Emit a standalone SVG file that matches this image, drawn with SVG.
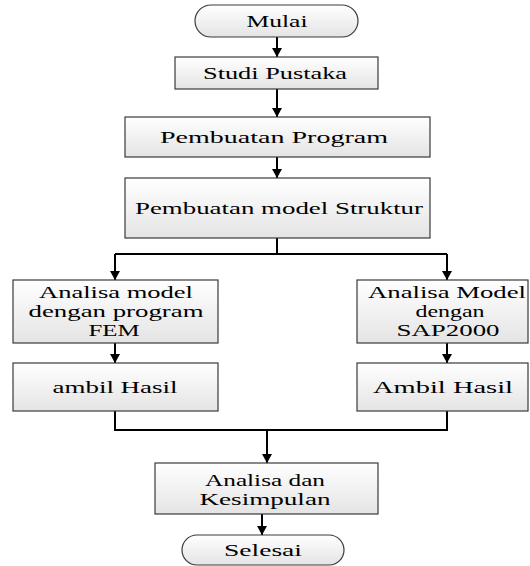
<svg xmlns="http://www.w3.org/2000/svg" width="530" height="566" viewBox="0 0 530 566">
<defs>
<linearGradient id="g" x1="0" y1="0" x2="0" y2="1">
<stop offset="0" stop-color="#ffffff"/>
<stop offset="1" stop-color="#e4e4e4"/>
</linearGradient>
<marker id="a" markerUnits="userSpaceOnUse" markerWidth="12" markerHeight="10" refX="10" refY="5.5" orient="auto" viewBox="0 0 10 11">
<path d="M0,0 L10,5.5 L0,11 z" fill="#000"/>
</marker>
</defs>
<g id="connectors" fill="none" stroke="#000" stroke-width="2">
<line x1="277" y1="37" x2="277" y2="57" marker-end="url(#a)"/>
<line x1="277" y1="89" x2="277" y2="117" marker-end="url(#a)"/>
<line x1="277" y1="157" x2="277" y2="178" marker-end="url(#a)"/>
<path d="M277,238 V254"/>
<path d="M115,254 H447"/>
<path d="M447,254 V280" marker-end="url(#a)"/>
<path d="M115,254 V280" marker-end="url(#a)"/>
<line x1="115" y1="343" x2="115" y2="363" marker-end="url(#a)"/>
<line x1="447" y1="343" x2="447" y2="363" marker-end="url(#a)"/>
<path d="M115,411 V430 H447 V411"/>
<line x1="267" y1="430" x2="267" y2="463" marker-end="url(#a)"/>
<line x1="262" y1="514" x2="262" y2="535" marker-end="url(#a)"/>
</g>
<g id="nodes" fill="url(#g)" stroke="#3a3a3a" stroke-width="1.2">
<g id="mulai"><rect x="195" y="5" width="163" height="32" rx="16"/></g>
<g id="studi"><rect x="175" y="57" width="203" height="32"/></g>
<g id="program"><rect x="125" y="117" width="305" height="40"/></g>
<g id="model"><rect x="125" y="178" width="305" height="60"/></g>
<g id="fem"><rect x="13" y="280" width="205" height="63"/></g>
<g id="ambil1"><rect x="13" y="363" width="205" height="48"/></g>
<g id="sap"><rect x="357" y="280" width="171" height="63"/></g>
<g id="ambil2"><rect x="357" y="363" width="171" height="48"/></g>
<g id="kesimpulan"><rect x="155" y="463" width="223" height="51"/></g>
<g id="selesai"><rect x="182" y="535" width="162" height="30" rx="15"/></g>
</g>
<g id="labels" font-family="Liberation Serif, serif" font-size="16" text-anchor="middle" fill="#000">
<text x="277" y="27" textLength="61" lengthAdjust="spacingAndGlyphs">Mulai</text>
<text x="275" y="79" textLength="144" lengthAdjust="spacingAndGlyphs">Studi Pustaka</text>
<text x="274" y="143" textLength="228" lengthAdjust="spacingAndGlyphs">Pembuatan Program</text>
<text x="279" y="214" textLength="288" lengthAdjust="spacingAndGlyphs">Pembuatan model Struktur</text>
<text x="116" y="298" textLength="154" lengthAdjust="spacingAndGlyphs">Analisa model</text>
<text x="116" y="317" textLength="175" lengthAdjust="spacingAndGlyphs">dengan program</text>
<text x="114" y="336" textLength="51" lengthAdjust="spacingAndGlyphs">FEM</text>
<text x="115" y="393" textLength="125" lengthAdjust="spacingAndGlyphs">ambil Hasil</text>
<text x="447" y="298" textLength="158" lengthAdjust="spacingAndGlyphs">Analisa Model</text>
<text x="450" y="317" textLength="69" lengthAdjust="spacingAndGlyphs">dengan</text>
<text x="448" y="336" textLength="103" lengthAdjust="spacingAndGlyphs">SAP2000</text>
<text x="443" y="393" textLength="140" lengthAdjust="spacingAndGlyphs">Ambil Hasil</text>
<text x="265" y="486" textLength="120" lengthAdjust="spacingAndGlyphs">Analisa dan</text>
<text x="265" y="505" textLength="131" lengthAdjust="spacingAndGlyphs">Kesimpulan</text>
<text x="263" y="556" textLength="78" lengthAdjust="spacingAndGlyphs">Selesai</text>
</g>
</svg>
